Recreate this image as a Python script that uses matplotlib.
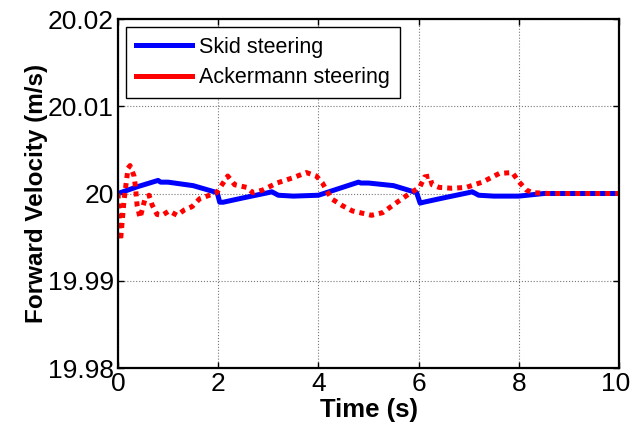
import numpy as np
import matplotlib.pyplot as plt
import matplotlib.transforms as mtransforms
from matplotlib.lines import Line2D

plt.rcParams['font.family'] = ['Liberation Sans', 'DejaVu Sans']

# Skid steering (blue, solid)
t_skid = [0, 0.4, 0.8, 0.85, 1.0, 1.5, 1.98, 2.03, 2.1, 2.5, 3.0, 3.07, 3.2, 3.5,
          4.0, 4.8, 4.85, 5.0, 5.5, 5.96, 6.03, 6.1, 6.5, 7.0, 7.07, 7.2, 7.5,
          8.0, 8.5, 10]
v_skid = [20.0, 20.0008, 20.0015, 20.0013, 20.0013, 20.0009, 20.0001, 19.9990,
          19.9990, 19.9995, 20.0001, 20.0002, 19.9998, 19.9997, 19.9998, 20.0013,
          20.0012, 20.0012, 20.0009, 20.0001, 19.9989, 19.9990, 19.9995, 20.0001,
          20.0002, 19.9998, 19.9997, 19.9997, 20.0, 20.0]

# Ackermann steering (red, dotted)
t_ack = [0, 0.05, 0.12, 0.2, 0.24, 0.32, 0.35, 0.38, 0.44, 0.54, 0.62, 0.68,
         0.78, 0.88, 1.02, 1.18, 1.32, 1.48, 1.63, 1.97, 2.19, 2.33, 2.57, 2.69,
         2.89, 3.17, 3.49, 3.76, 3.96, 4.08, 4.26, 4.48, 4.68, 5.06, 5.28, 5.62,
         5.82, 6.02, 6.12, 6.22, 6.27, 6.41, 6.67, 6.95, 7.27, 7.61, 7.87, 8.01,
         8.15, 8.27, 8.6, 10]
v_ack = [20.0, 19.9946, 19.9992, 20.0029, 20.0032, 20.0020, 20.0007, 19.9987,
         19.9972, 19.9994, 19.9998, 19.9987, 19.9976, 19.9975, 19.9980, 19.9975,
         19.9981, 19.9985, 19.9994, 20.0001, 20.0020, 20.0010, 20.0007, 20.0001,
         20.0004, 20.0012, 20.0018, 20.0024, 20.0020, 20.0012, 19.9994, 19.9986,
         19.9980, 19.9975, 19.9978, 19.9992, 20.0, 20.0007, 20.0019, 20.0020,
         20.0010, 20.0007, 20.0006, 20.0007, 20.0013, 20.0023, 20.0024, 20.0013,
         20.0004, 20.0001, 20.0, 20.0]

xticks = [0, 2, 4, 6, 8, 10]
yticks = [19.98, 19.99, 20.0, 20.01, 20.02]
ytick_labels = ['19.98', '19.99', '20', '20.01', '20.02']

fig = plt.figure(figsize=(6.32, 4.36), dpi=100)
ax = fig.add_axes([118 / 632, (436 - 368) / 436, 501 / 632, 349 / 436])

ax.plot(t_skid, v_skid, color='blue', lw=3.6, solid_joinstyle='round')
ax.plot(t_ack, v_ack, color='red', lw=3.6, linestyle=(0, (1, 1)))

ax.set_xlim(0, 10)
ax.set_ylim(19.98, 20.02)
ax.set_xticks(xticks)
ax.set_yticks(yticks)
ax.set_yticklabels(ytick_labels)
ax.tick_params(direction='in', top=True, right=True, labelsize=19, length=4, width=1, pad=3)
ax.grid(True, linestyle=':', color='#777777', lw=0.8)
for s in ax.spines.values():
    s.set_linewidth(1.6)

# keep the last x tick label inside the canvas
last = ax.get_xticklabels()[-1]
last.set_transform(last.get_transform() +
                   mtransforms.ScaledTranslation(-3 / 100, 0, fig.dpi_scale_trans))

ax.set_xlabel('Time (s)', fontsize=18.5, fontweight='bold', labelpad=1)
ax.set_ylabel('Forward Velocity (m/s)', fontsize=17.5, fontweight='bold', labelpad=0)

handles = [Line2D([], [], color='blue', lw=3.6), Line2D([], [], color='red', lw=3.6)]
leg = ax.legend(handles, ['Skid steering', 'Ackermann steering'], loc='upper left',
                fontsize=15.5, fancybox=False, edgecolor='black', framealpha=1,
                borderaxespad=0.37, borderpad=0.45, handlelength=2.6,
                handletextpad=0.35, labelspacing=0.45)
leg.get_frame().set_linewidth(1.0)

fig.savefig('out.png', dpi=100)
